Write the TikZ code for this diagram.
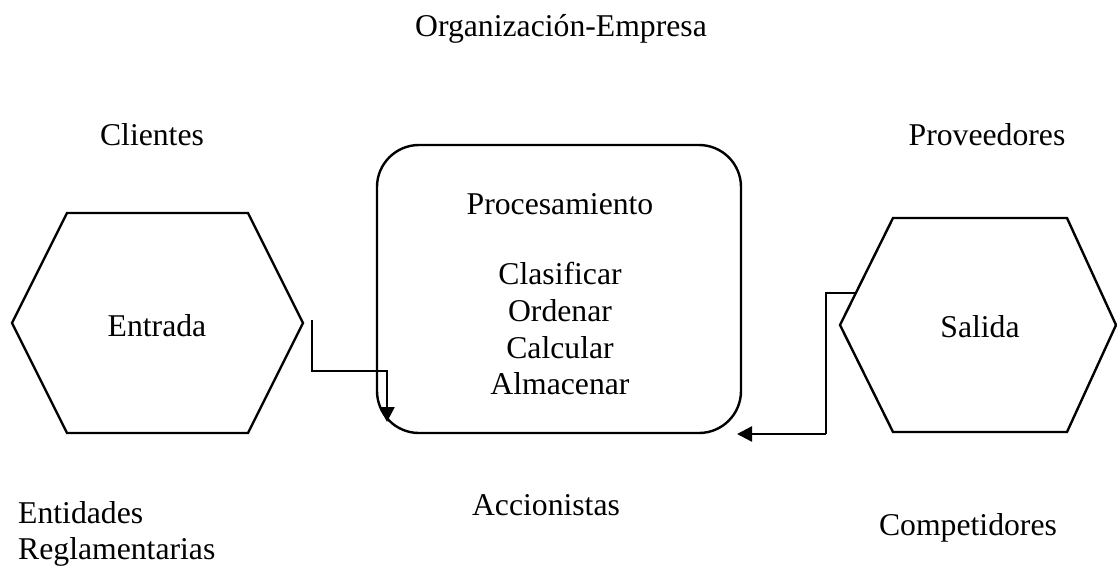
\documentclass[tikz,border=0pt]{standalone}
\usepackage{fontspec}
\setmainfont{Liberation Serif}
\usetikzlibrary{arrows.meta}

\begin{document}
\begin{tikzpicture}[x=1pt,y=-1pt,
	font=\fontsize{31.7}{36.7}\selectfont,
	etiqueta/.style={inner sep=0pt,anchor=base},
	borde/.style={line width=2.4pt,line join=miter},
	flecha/.style={line width=2.4pt,-{Triangle[length=15pt,width=15pt]}},
	delgada/.style={line width=1.2pt}]
	\useasboundingbox (0,0) rectangle (1117,566);
	% titulo y entorno
	\node[etiqueta] (org) at (561,36) {Organización-Empresa};
	\node[etiqueta] (clientes) at (152,145) {Clientes};
	\node[etiqueta] (proveedores) at (987,145) {Proveedores};
	\node[etiqueta] (accionistas) at (546,515) {Accionistas};
	\node[etiqueta] (competidores) at (968,535) {Competidores};
	\node[inner sep=0pt,anchor=north west,align=left] (entidades) at (18,501) {Entidades\\Reglamentarias};
	% hexagonos
	\draw[borde] (67,213) -- (248,213) -- (303,323) -- (248,433) -- (67,433) -- (12,323) -- cycle;
	\draw[borde] (893,218) -- (1067,218) -- (1116,325) -- (1067,432) -- (893,432) -- (840,325) -- cycle;
	\node[etiqueta] (entrada) at (157,336) {Entrada};
	\node[etiqueta] (salida) at (980,337) {Salida};
	% procesamiento
	\node[borde,draw,rounded corners=42pt,minimum width=364pt,minimum height=288pt,inner sep=0pt] (proc) at (559,289) {};
	\node[inner sep=0pt,anchor=north,align=center] (pasos) at (560,193) {Procesamiento\\[34pt]Clasificar\\Ordenar\\Calcular\\Almacenar};
	% flechas
	\coordinate (e0) at (312,320);
	\coordinate (e1) at (387,422);
	\draw[flecha] (e0) -- ++(0,51) -| (e1);
	\coordinate (s0) at (856,293);
	\coordinate (s1) at (826,434);
	\coordinate (s2) at (737,434);
	\draw[delgada] (s0) -| (s1);
	\draw[flecha] (s1) -- (s2);
\end{tikzpicture}
\end{document}
